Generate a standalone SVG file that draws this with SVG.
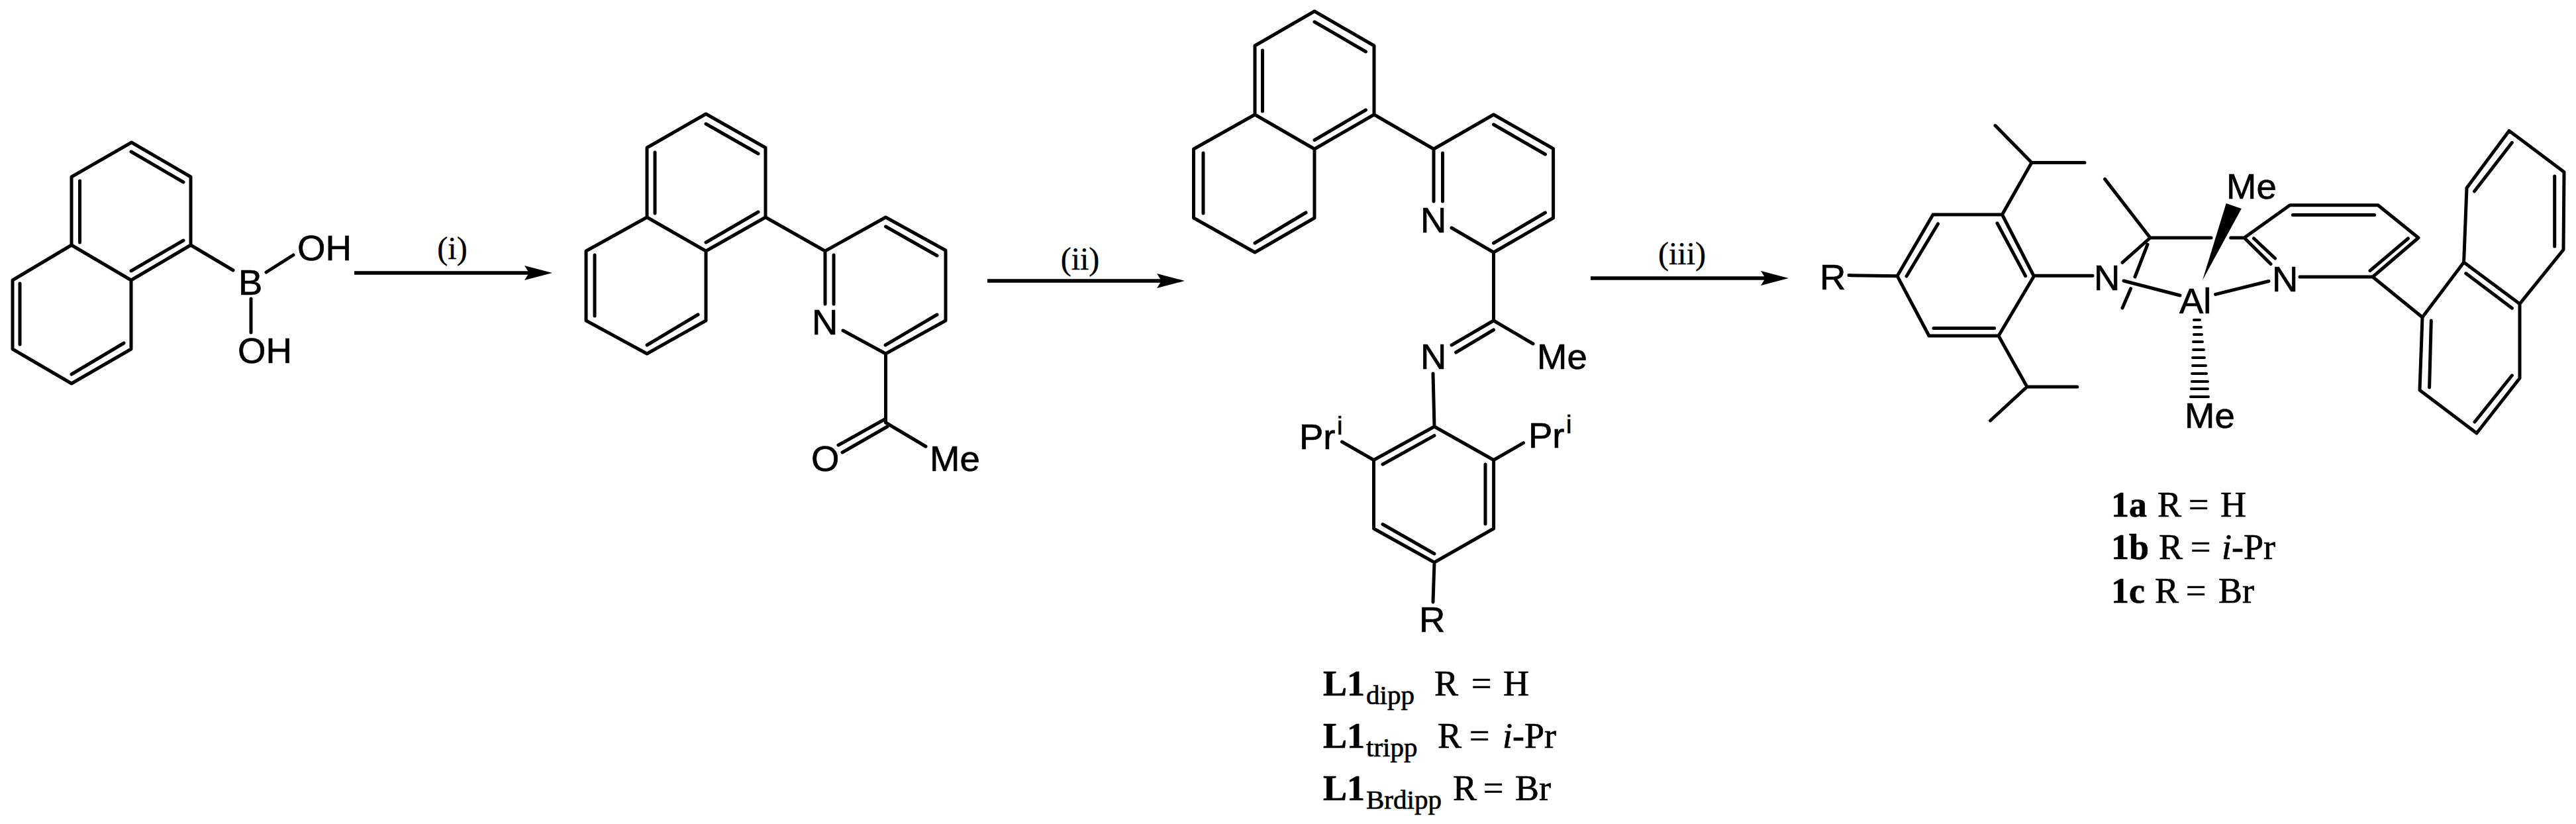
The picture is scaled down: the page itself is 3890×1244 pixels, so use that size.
<svg xmlns="http://www.w3.org/2000/svg" width="3890" height="1244" viewBox="0 0 3890 1244">
<style>
.b{fill:none;stroke:#000;stroke-width:5;stroke-linecap:round;stroke-linejoin:round}
.h{fill:none;stroke:#000;stroke-width:4;stroke-linecap:round}
.a{font-family:"Liberation Sans",Arial,sans-serif;font-size:54.500px;fill:#000;stroke:#000;stroke-width:.7}
.s{font-size:38px}
.t{font-family:"Liberation Serif","Times New Roman",serif;font-size:54px;fill:#000;stroke:#000;stroke-width:.7}
.c{font-family:"Liberation Serif","Times New Roman",serif;font-size:48px;fill:#000;text-anchor:middle;stroke:#000;stroke-width:.4}
.sub{font-size:41px}
.bd{font-weight:bold}
.it{font-style:italic}
.ar{fill:none;stroke:#000;stroke-width:5.500}
</style>
<defs>
<marker id="h" markerUnits="userSpaceOnUse" markerWidth="42" markerHeight="24" refX="7" refY="12" orient="auto"><path d="M0,1 L42,12 L0,23 L7,12Z" fill="#000"/></marker>
</defs>
<rect width="3890" height="1244" fill="#fff"/>
<g id="connectors">
<path class="ar" d="M535,412H799" marker-end="url(#h)"/>
<path class="ar" d="M1491,424H1754" marker-end="url(#h)"/>
<path class="ar" d="M2402,420H2666" marker-end="url(#h)"/>
<text class="c" x="683" y="391">(i)</text>
<text class="c" x="1631" y="407">(ii)</text>
<text class="c" x="2540" y="399">(iii)</text>
</g>
<g id="boronic-acid">
<path class="b" d="M198.600,215L288,267V370L198,423L108,370V267ZM108,370L19,423V527L108,579L198,527V423M198,229L277,275M120.500,273V366M277,363L198,409M30,428V520M187,518L108,565M288,370L352,408M402,411L443,385M379,451V502"/>
<text class="a" x="360" y="445">B</text>
<text class="a" x="449" y="393">OH</text>
<text class="a" x="359" y="548">OH</text>
</g>
<g id="ketone">
<path class="b" d="M1066,172L1156,223V328L1066,379L977,328V223ZM977,328L885,379V484L977,534L1066,484V379M1066,187L1145,232M989,230V322M1145,320L1066,366M898,385V477M1054,475L977,521M1156,328L1246,379M1246,379L1337.500,328L1428,378V484L1337.500,534L1273,499M1246,379V459M1259,385V459M1337.500,342L1415,386M1415,475L1337,521M1337.500,534V638M1336,633L1266,672M1340,644L1272,683M1337.500,638L1398,674"/>
<text class="a" x="1226" y="504.500">N</text>
<text class="a" x="1225" y="711">O</text>
<text class="a" x="1404" y="711">Me</text>
</g>
<g id="ligand-L1">
<path class="b" d="M1985,17L2075,69V173L1985,225L1895,173V69ZM1895,173L1802.500,225V329L1895,381L1985,329V225M1985,33L2062.500,78M1906.500,76V168M2062.500,166L1985,211.500M1817,231V322M1972,321L1895,367M2075,173L2165,225M2165,225L2255.500,173L2345.600,224.500V329L2255.500,381L2192,344M2165,225V304M2178.500,231V304M2255.500,188L2333.500,233M2333.500,321L2255.500,367M2255.500,381V484M2255.500,484L2192,521M2255.500,498L2198.600,532M2255.500,484L2315,519M2164,564L2166,644M2166,644L2255.600,694.500V798L2166,849L2074.500,798V694.500ZM2166,657.600L2088,701M2243,701V791M2088,791.500L2166,836M2074.500,694.500L2026.500,667M2255.600,694.500L2300.500,668.700M2166,849L2164,909"/>
<text class="a" x="2145" y="350.600">N</text>
<text class="a" x="2145" y="557">N</text>
<text class="a" x="2321" y="557">Me</text>
<text class="a" x="1962" y="678.400">Pr<tspan class="s" x="2019" y="656">i</tspan></text>
<text class="a" x="2308" y="676">Pr<tspan class="s" x="2365" y="654">i</tspan></text>
<text class="a" x="2143" y="954">R</text>
<text class="t"><tspan class="bd" x="1998" y="1049.600">L1</tspan><tspan class="sub" x="2063" y="1062.500">dipp</tspan><tspan x="2166" y="1049.600">R</tspan><tspan x="2222" y="1049.600">=</tspan><tspan x="2270" y="1049.600">H</tspan></text>
<text class="t"><tspan class="bd" x="1998" y="1128.500">L1</tspan><tspan class="sub" x="2063" y="1142">tripp</tspan><tspan x="2171" y="1128.500">R</tspan><tspan x="2219" y="1128.500">=</tspan><tspan class="it" x="2269" y="1128.500">i</tspan><tspan>-Pr</tspan></text>
<text class="t"><tspan class="bd" x="1998" y="1208">L1</tspan><tspan class="sub" x="2063" y="1221">Brdipp</tspan><tspan x="2194" y="1208">R</tspan><tspan x="2240" y="1208">=</tspan><tspan x="2288" y="1208">Br</tspan></text>
</g>
<g id="complex-1">
<path class="b" d="M2792,415.600L2865,416.700L2919,324H3023.500L3071.400,417L3018,507H2913L2865,416.700M2879,417L2926.500,338M3016,337L3058.700,416.700M2920,495.600H3011.700M3023.500,324L3068,245.400L3013,189.600M3068,245.400H3148M3018,507L3061,584L3005.600,635M3061,584H3136.800M3071.400,416.300H3160M3178.500,270.400L3247,359H3339M3368.700,359H3389M3247,359L3205,396.400M3243,369L3224,418M3217.600,435.700L3205,465M3207,424L3292,446M3345.600,444.400L3426,424.500M3473,418H3583M3389,359L3458,309.700H3591L3652,359L3583,418M3389,359L3429,398.500M3403.500,360L3435.600,390M3462.400,324.500H3585.600M3636.500,360L3579,408.700M3583,418L3658,479M3658,479L3720.600,396L3805,458.700V571L3740,654L3654,589ZM3720.600,396L3725,283.700L3789,197.400L3872,259.700L3871,377L3805,458.700M3736.600,288.800L3793.400,215.300M3857.700,266V372M3723.800,412.800L3793.400,465.300M3671.300,484L3668.600,585M3793.400,566.800L3737,637"/>
<path d="M3326,423L3361.700,307L3384.800,315Z" fill="#000"/>
<path class="h" d="M3313,483h9M3313,494h11M3313,505h12M3312,516h14M3312,528h16M3311,540h18M3311,552h20M3310,564h22M3310,576h24M3309,587h25M3308,599h27"/>
<text class="a" x="2748" y="436.700">R</text>
<text class="a" x="3162" y="438">N</text>
<text class="a" x="3431" y="440">N</text>
<text class="a" x="3291" y="473">Al</text>
<text class="a" x="3362" y="299.500">Me</text>
<text class="a" x="3299" y="646.400">Me</text>
<text class="t"><tspan class="bd" x="3188" y="780">1a</tspan><tspan x="3258" y="780">R</tspan><tspan x="3305" y="780">=</tspan><tspan x="3353" y="780">H</tspan></text>
<text class="t"><tspan class="bd" x="3188" y="844">1b</tspan><tspan x="3260" y="844">R</tspan><tspan x="3308" y="844">=</tspan><tspan class="it" x="3355" y="844">i</tspan><tspan>-Pr</tspan></text>
<text class="t"><tspan class="bd" x="3188" y="910">1c</tspan><tspan x="3254" y="910">R</tspan><tspan x="3301" y="910">=</tspan><tspan x="3350" y="910">Br</tspan></text>
</g>
</svg>
